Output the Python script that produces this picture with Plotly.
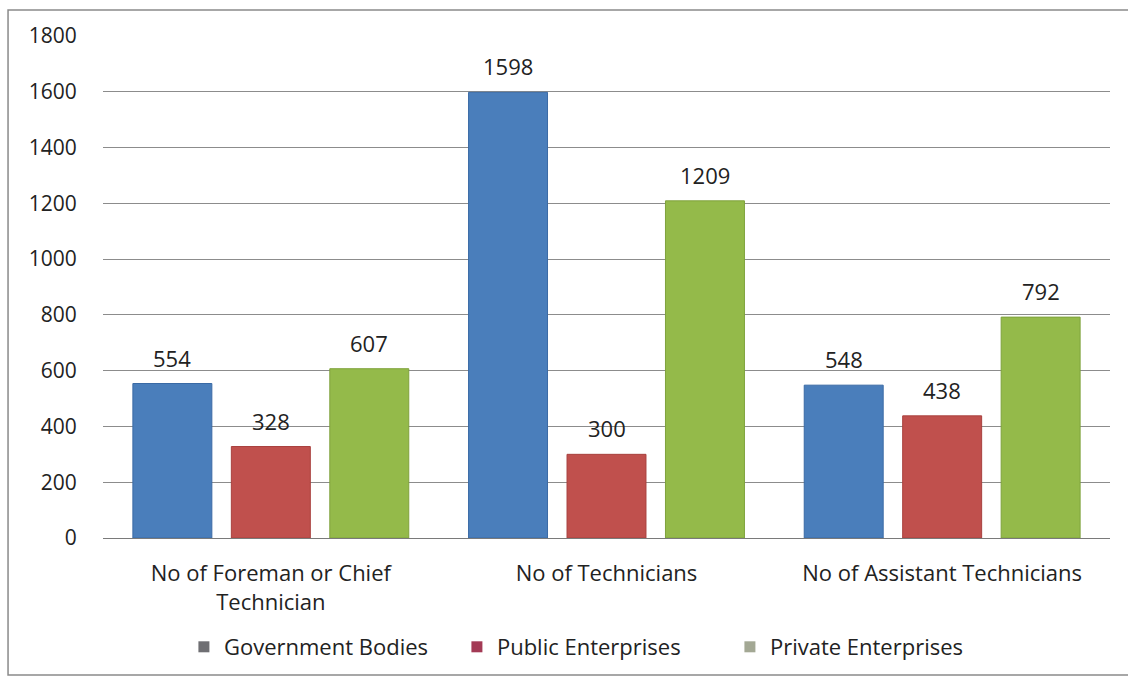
import plotly.graph_objects as go

categories = ["No of Foreman or Chief<br>Technician", "No of Technicians", "No of Assistant Technicians"]
series_names = ["Government Bodies", "Public Enterprises", "Private Enterprises"]
government = [554, 1598, 548]
public = [328, 300, 438]
private = [607, 1209, 792]
y_ticks = [0, 200, 400, 600, 800, 1000, 1200, 1400, 1600, 1800]

bar_colors = ["#4a7ebb", "#c0504d", "#94ba4a"]
bar_edges = ["#3a6aa5", "#a8403e", "#7fa23c"]
legend_colors = ["#6f6f73", "#a33a55", "#a3a894"]

FONT = "Open Sans"
TXT = "#222"
BARGAP = 0.12
GROUPGAP = 0.198

fig = go.Figure()
all_series = [government, public, private]
for name, vals, col, edge in zip(series_names, all_series, bar_colors, bar_edges):
    fig.add_trace(go.Bar(
        x=categories, y=vals, name=name,
        marker=dict(color=col, line=dict(color=edge, width=1)),
        showlegend=False, hoverinfo="x+y",
    ))

# value labels above each bar (slot offsets follow the group layout)
slot = (1 - BARGAP) / len(all_series)
annotations = []
for j, vals in enumerate(all_series):
    off = (j - (len(all_series) - 1) / 2) * slot
    for i, v in enumerate(vals):
        annotations.append(dict(
            x=i + off, y=v, xref="x", yref="y", text=str(v), showarrow=False,
            yanchor="bottom", yshift=9, font=dict(family=FONT, size=22, color=TXT),
        ))

# legend entries with square swatches
for name, col in zip(series_names, legend_colors):
    fig.add_trace(go.Scatter(
        x=[None], y=[None], mode="markers", name=name,
        marker=dict(symbol="square", size=11, color=col),
    ))

fig.update_layout(
    width=1128, height=679,
    margin=dict(l=103, r=18, t=36, b=141, autoexpand=False),
    paper_bgcolor="white", plot_bgcolor="white",
    barmode="group", bargap=BARGAP, bargroupgap=GROUPGAP,
    font=dict(family=FONT, size=22, color=TXT),
    legend=dict(orientation="h", x=0.487, xanchor="center",
                yref="container", y=32 / 679, yanchor="middle",
                bgcolor="rgba(0,0,0,0)",
                font=dict(family=FONT, size=22, color=TXT), itemwidth=30,
                entrywidth=228, entrywidthmode="pixels"),
    annotations=annotations,
    shapes=[dict(type="rect", xref="paper", yref="paper",
                 x0=-0.0943, x1=1.03, y0=-0.273, y1=1.052,
                 line=dict(color="#8a8a8a", width=1.5), layer="below")],
)
fig.update_xaxes(showgrid=False, showline=False, automargin=False,
                 ticks="outside", ticklen=16, tickcolor="rgba(0,0,0,0)",
                 tickfont=dict(family=FONT, size=22, color=TXT))
fig.update_yaxes(range=[0, 1800], tickvals=y_ticks, showgrid=True, gridcolor="#8c8c8c",
                 gridwidth=1, zeroline=True, zerolinecolor="#7a7a7a", zerolinewidth=1,
                 automargin=False, ticks="outside", ticklen=21, tickcolor="rgba(0,0,0,0)",
                 tickfont=dict(family=FONT, size=21, color=TXT))

fig.write_html("out.html")
